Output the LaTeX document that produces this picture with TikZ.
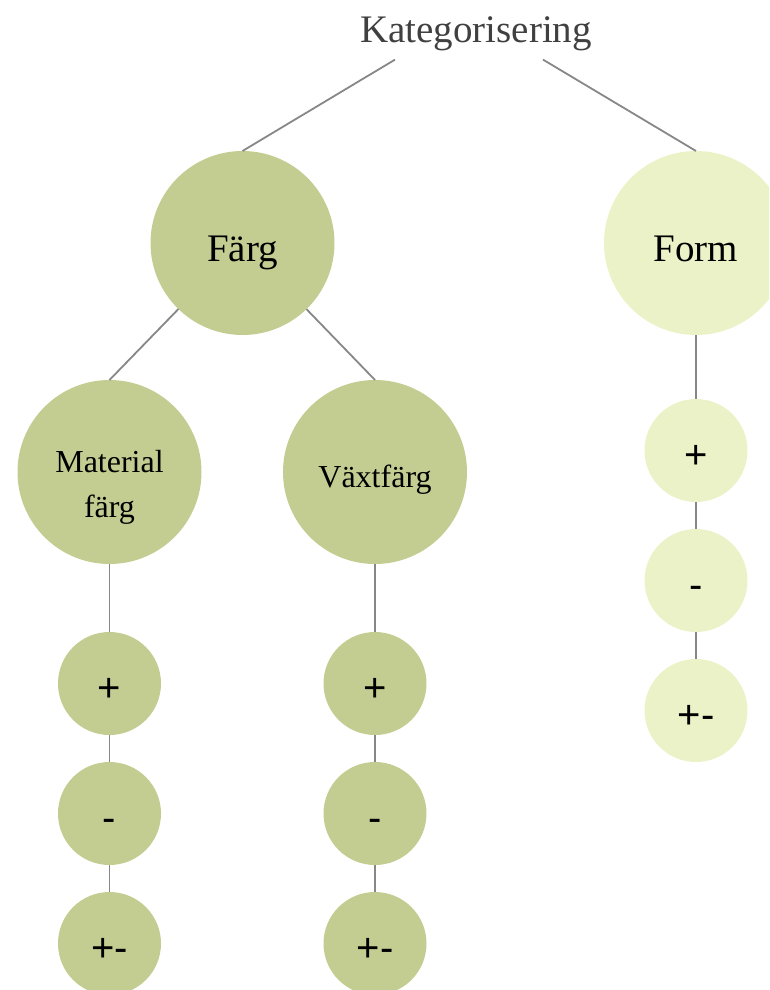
\documentclass[tikz,border=0pt]{standalone}
\usepackage{fontspec}
\setmainfont{Liberation Serif}
\newfontfamily\tecken{Liberation Sans}
\usetikzlibrary{positioning}
\definecolor{morkgron}{RGB}{196,205,145}
\definecolor{ljusgul}{RGB}{236,242,199}
\definecolor{linje}{RGB}{135,135,135}

\begin{document}
\begin{tikzpicture}[x=1pt,y=-1pt,
	stor/.style={circle,minimum size=184pt,inner sep=0pt,outer sep=0pt,font=\fontsize{39}{45}\selectfont,text height=36pt,text depth=0pt},
	mellan/.style={circle,minimum size=184pt,inner sep=0pt,outer sep=0pt,font=\fontsize{32}{45}\selectfont,align=center},
	liten/.style={circle,minimum size=103pt,inner sep=0pt,outer sep=0pt,font=\tecken\fontsize{40}{40}\selectfont,text height=36pt,text depth=0pt},
	kant/.style={draw=linje,line width=1.8pt}]
	\clip (0,0) rectangle (769,990);
	\node [inner sep=0pt,anchor=base,text=black!75,font=\fontsize{39}{45}\selectfont] at (476,43) (titel) {Kategorisering};
	\node [stor,fill=morkgron] at (242.5,243) (farg) {Färg};
	\node [stor,fill=ljusgul] at (696,243) (form) {Form};
	\node [mellan,fill=morkgron,text height=90pt,text depth=0pt] at (109.5,472) (material) {Material\\färg};
	\node [mellan,fill=morkgron,text height=30pt,text depth=0pt] at (375,472) (vaxt) {Växtfärg};
	% kedjor under
	\node [liten,fill=morkgron,below=68pt of material] (mplus) {+};
	\node [liten,fill=morkgron,below=27pt of mplus] (mminus) {-};
	\node [liten,fill=morkgron,below=27pt of mminus] (mpm) {+-};
	\node [liten,fill=morkgron,below=68pt of vaxt] (vplus) {+};
	\node [liten,fill=morkgron,below=27pt of vplus] (vminus) {-};
	\node [liten,fill=morkgron,below=27pt of vminus] (vpm) {+-};
	\node [liten,fill=ljusgul,below=64pt of form] (fplus) {+};
	\node [liten,fill=ljusgul,below=27pt of fplus] (fminus) {-};
	\node [liten,fill=ljusgul,below=27pt of fminus] (fpm) {+-};
	\draw [kant] ([xshift=-81pt,yshift=-8pt]titel.south) -- (farg.north);
	\draw [kant] ([xshift=67pt,yshift=-8pt]titel.south) -- (form.north);
	\draw [kant] (farg) -- (material.north);
	\draw [kant] (farg) -- (vaxt.north);
	\draw [kant] (material) -- (mplus) -- (mminus) -- (mpm);
	\draw [kant] (vaxt) -- (vplus) -- (vminus) -- (vpm);
	\draw [kant] (form) -- (fplus) -- (fminus) -- (fpm);
\end{tikzpicture}
\end{document}
